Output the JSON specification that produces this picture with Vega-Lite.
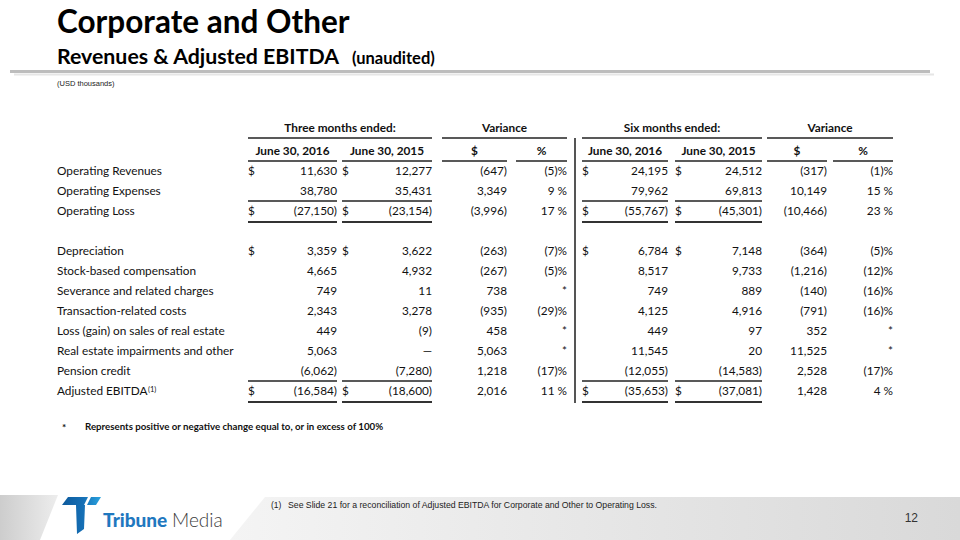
{
  "$schema": "https://vega.github.io/schema/vega-lite/v6.json",
  "width": 960,
  "height": 540,
  "autosize": "none",
  "padding": 0,
  "background": "white",
  "config": {"view": {"stroke": null}, "axis": {"disable": true}, "text": {"font": "Lato", "color": "#111111"}},
  "datasets": {
    "rows": [
      {"r": "Operating Revenues", "c": 0}, {"r": "Operating Expenses", "c": 0}, {"r": "Operating Loss", "c": 0},
      {"r": "Depreciation", "c": 0}, {"r": "Stock-based compensation", "c": 0}, {"r": "Severance and related charges", "c": 0},
      {"r": "Transaction-related costs", "c": 0}, {"r": "Loss (gain) on sales of real estate", "c": 0},
      {"r": "Real estate impairments and other", "c": 0}, {"r": "Pension credit", "c": 0}, {"r": "Adjusted EBITDA", "c": 0}
    ],
    "cells": [
      {"r": "Operating Revenues", "c": 3, "t": "11,630\u2002"}, {"r": "Operating Revenues", "c": 7, "t": "12,277\u2002"}, {"r": "Operating Revenues", "c": 11, "t": "(647)"}, {"r": "Operating Revenues", "c": 14, "t": "(5)%"},
      {"r": "Operating Revenues", "c": 18, "t": "24,195\u2002"}, {"r": "Operating Revenues", "c": 22, "t": "24,512\u2002"}, {"r": "Operating Revenues", "c": 25, "t": "(317)"}, {"r": "Operating Revenues", "c": 29, "t": "(1)%"},
      {"r": "Operating Expenses", "c": 3, "t": "38,780\u2002"}, {"r": "Operating Expenses", "c": 7, "t": "35,431\u2002"}, {"r": "Operating Expenses", "c": 11, "t": "3,349\u2002"}, {"r": "Operating Expenses", "c": 14, "t": "9 %"},
      {"r": "Operating Expenses", "c": 18, "t": "79,962\u2002"}, {"r": "Operating Expenses", "c": 22, "t": "69,813\u2002"}, {"r": "Operating Expenses", "c": 25, "t": "10,149\u2002"}, {"r": "Operating Expenses", "c": 29, "t": "15 %"},
      {"r": "Operating Loss", "c": 3, "t": "(27,150)"}, {"r": "Operating Loss", "c": 7, "t": "(23,154)"}, {"r": "Operating Loss", "c": 11, "t": "(3,996)"}, {"r": "Operating Loss", "c": 14, "t": "17 %"},
      {"r": "Operating Loss", "c": 18, "t": "(55,767)"}, {"r": "Operating Loss", "c": 22, "t": "(45,301)"}, {"r": "Operating Loss", "c": 25, "t": "(10,466)"}, {"r": "Operating Loss", "c": 29, "t": "23 %"},
      {"r": "Depreciation", "c": 3, "t": "3,359\u2002"}, {"r": "Depreciation", "c": 7, "t": "3,622\u2002"}, {"r": "Depreciation", "c": 11, "t": "(263)"}, {"r": "Depreciation", "c": 14, "t": "(7)%"},
      {"r": "Depreciation", "c": 18, "t": "6,784\u2002"}, {"r": "Depreciation", "c": 22, "t": "7,148\u2002"}, {"r": "Depreciation", "c": 25, "t": "(364)"}, {"r": "Depreciation", "c": 29, "t": "(5)%"},
      {"r": "Stock-based compensation", "c": 3, "t": "4,665\u2002"}, {"r": "Stock-based compensation", "c": 7, "t": "4,932\u2002"}, {"r": "Stock-based compensation", "c": 11, "t": "(267)"}, {"r": "Stock-based compensation", "c": 14, "t": "(5)%"},
      {"r": "Stock-based compensation", "c": 18, "t": "8,517\u2002"}, {"r": "Stock-based compensation", "c": 22, "t": "9,733\u2002"}, {"r": "Stock-based compensation", "c": 25, "t": "(1,216)"}, {"r": "Stock-based compensation", "c": 29, "t": "(12)%"},
      {"r": "Severance and related charges", "c": 3, "t": "749\u2002"}, {"r": "Severance and related charges", "c": 7, "t": "11\u2002"}, {"r": "Severance and related charges", "c": 11, "t": "738\u2002"}, {"r": "Severance and related charges", "c": 14, "t": "*\u2009"},
      {"r": "Severance and related charges", "c": 18, "t": "749\u2002"}, {"r": "Severance and related charges", "c": 22, "t": "889\u2002"}, {"r": "Severance and related charges", "c": 25, "t": "(140)"}, {"r": "Severance and related charges", "c": 29, "t": "(16)%"},
      {"r": "Transaction-related costs", "c": 3, "t": "2,343\u2002"}, {"r": "Transaction-related costs", "c": 7, "t": "3,278\u2002"}, {"r": "Transaction-related costs", "c": 11, "t": "(935)"}, {"r": "Transaction-related costs", "c": 14, "t": "(29)%"},
      {"r": "Transaction-related costs", "c": 18, "t": "4,125\u2002"}, {"r": "Transaction-related costs", "c": 22, "t": "4,916\u2002"}, {"r": "Transaction-related costs", "c": 25, "t": "(791)"}, {"r": "Transaction-related costs", "c": 29, "t": "(16)%"},
      {"r": "Loss (gain) on sales of real estate", "c": 3, "t": "449\u2002"}, {"r": "Loss (gain) on sales of real estate", "c": 7, "t": "(9)"}, {"r": "Loss (gain) on sales of real estate", "c": 11, "t": "458\u2002"}, {"r": "Loss (gain) on sales of real estate", "c": 14, "t": "*\u2009"},
      {"r": "Loss (gain) on sales of real estate", "c": 18, "t": "449\u2002"}, {"r": "Loss (gain) on sales of real estate", "c": 22, "t": "97\u2002"}, {"r": "Loss (gain) on sales of real estate", "c": 25, "t": "352\u2002"}, {"r": "Loss (gain) on sales of real estate", "c": 29, "t": "*\u2009"},
      {"r": "Real estate impairments and other", "c": 3, "t": "5,063\u2002"}, {"r": "Real estate impairments and other", "c": 7, "t": "\u2014\u2002"}, {"r": "Real estate impairments and other", "c": 11, "t": "5,063\u2002"}, {"r": "Real estate impairments and other", "c": 14, "t": "*\u2009"},
      {"r": "Real estate impairments and other", "c": 18, "t": "11,545\u2002"}, {"r": "Real estate impairments and other", "c": 22, "t": "20\u2002"}, {"r": "Real estate impairments and other", "c": 25, "t": "11,525\u2002"}, {"r": "Real estate impairments and other", "c": 29, "t": "*\u2009"},
      {"r": "Pension credit", "c": 3, "t": "(6,062)"}, {"r": "Pension credit", "c": 7, "t": "(7,280)"}, {"r": "Pension credit", "c": 11, "t": "1,218\u2002"}, {"r": "Pension credit", "c": 14, "t": "(17)%"},
      {"r": "Pension credit", "c": 18, "t": "(12,055)"}, {"r": "Pension credit", "c": 22, "t": "(14,583)"}, {"r": "Pension credit", "c": 25, "t": "2,528\u2002"}, {"r": "Pension credit", "c": 29, "t": "(17)%"},
      {"r": "Adjusted EBITDA", "c": 3, "t": "(16,584)"}, {"r": "Adjusted EBITDA", "c": 7, "t": "(18,600)"}, {"r": "Adjusted EBITDA", "c": 11, "t": "2,016\u2002"}, {"r": "Adjusted EBITDA", "c": 14, "t": "11 %"},
      {"r": "Adjusted EBITDA", "c": 18, "t": "(35,653)"}, {"r": "Adjusted EBITDA", "c": 22, "t": "(37,081)"}, {"r": "Adjusted EBITDA", "c": 25, "t": "1,428\u2002"}, {"r": "Adjusted EBITDA", "c": 29, "t": "4 %"}
    ],
    "dollars": [
      {"r": "Operating Revenues", "c": 1, "t": "$"}, {"r": "Operating Revenues", "c": 5, "t": "$"}, {"r": "Operating Revenues", "c": 16, "t": "$"}, {"r": "Operating Revenues", "c": 20, "t": "$"},
      {"r": "Operating Loss", "c": 1, "t": "$"}, {"r": "Operating Loss", "c": 5, "t": "$"}, {"r": "Operating Loss", "c": 16, "t": "$"}, {"r": "Operating Loss", "c": 20, "t": "$"},
      {"r": "Depreciation", "c": 1, "t": "$"}, {"r": "Depreciation", "c": 5, "t": "$"}, {"r": "Depreciation", "c": 16, "t": "$"}, {"r": "Depreciation", "c": 20, "t": "$"},
      {"r": "Adjusted EBITDA", "c": 1, "t": "$"}, {"r": "Adjusted EBITDA", "c": 5, "t": "$"}, {"r": "Adjusted EBITDA", "c": 16, "t": "$"}, {"r": "Adjusted EBITDA", "c": 20, "t": "$"}
    ],
    "headers": [
      {"r": "h1", "c": 4, "t": "Three months ended:"}, {"r": "h1", "c": 10, "t": "Variance"}, {"r": "h1", "c": 19, "t": "Six months ended:"}, {"r": "h1", "c": 26, "t": "Variance"},
      {"r": "h2", "c": 2, "t": "June 30, 2016"}, {"r": "h2", "c": 6, "t": "June 30, 2015"}, {"r": "h2", "c": 9, "t": "$"}, {"r": "h2", "c": 13, "t": "%"},
      {"r": "h2", "c": 17, "t": "June 30, 2016"}, {"r": "h2", "c": 21, "t": "June 30, 2015"}, {"r": "h2", "c": 24, "t": "$"}, {"r": "h2", "c": 28, "t": "%"}
    ],
    "rules": [
      {"r": "h1", "c": 1, "c2": 7}, {"r": "h1", "c": 8, "c2": 14}, {"r": "h1", "c": 16, "c2": 22}, {"r": "h1", "c": 23, "c2": 29},
      {"r": "h2", "c": 1, "c2": 3}, {"r": "h2", "c": 5, "c2": 7}, {"r": "h2", "c": 8, "c2": 11}, {"r": "h2", "c": 12, "c2": 14},
      {"r": "h2", "c": 16, "c2": 18}, {"r": "h2", "c": 20, "c2": 22}, {"r": "h2", "c": 23, "c2": 25}, {"r": "h2", "c": 27, "c2": 29},
      {"r": "Operating Expenses", "c": 1, "c2": 3}, {"r": "Operating Expenses", "c": 5, "c2": 7}, {"r": "Operating Expenses", "c": 16, "c2": 18}, {"r": "Operating Expenses", "c": 20, "c2": 22},
      {"r": "Operating Loss", "c": 1, "c2": 3}, {"r": "Operating Loss", "c": 5, "c2": 7}, {"r": "Operating Loss", "c": 16, "c2": 18}, {"r": "Operating Loss", "c": 20, "c2": 22},
      {"r": "Pension credit", "c": 1, "c2": 3}, {"r": "Pension credit", "c": 5, "c2": 7}, {"r": "Pension credit", "c": 16, "c2": 18}, {"r": "Pension credit", "c": 20, "c2": 22},
      {"r": "Adjusted EBITDA", "c": 1, "c2": 3}, {"r": "Adjusted EBITDA", "c": 5, "c2": 7}, {"r": "Adjusted EBITDA", "c": 16, "c2": 18}, {"r": "Adjusted EBITDA", "c": 20, "c2": 22}
    ]
  },
  "layer": [
    {
      "data": {"values": [{}]},
      "layer": [
        {
          "mark": {"type": "point", "shape": "M-1,-0.7759L1,-0.7759L0.3793,0.7759L-1,0.7759Z", "size": 3364, "filled": true, "opacity": 1, "strokeWidth": 0,
            "fill": {"gradient": "linear", "x1": 0, "y1": 0, "x2": 1, "y2": 0, "stops": [{"offset": 0, "color": "#cdcdcd"}, {"offset": 1, "color": "#ededed"}]}},
          "encoding": {
            "x": {"datum": 29, "type": "quantitative", "scale": {"domain": [0, 960], "range": [0, 960], "nice": false, "zero": false}},
            "y": {"datum": 517.5, "type": "quantitative", "scale": {"domain": [0, 540], "range": [0, 540], "nice": false, "zero": false}}
          }
        },
        {
          "mark": {"type": "point", "shape": "M-0.9041,-0.0589L1,-0.0589L1,0.0589L-1,0.0589Z", "size": 532900, "filled": true, "opacity": 1, "strokeWidth": 0,
            "fill": {"gradient": "linear", "x1": 0, "y1": 0, "x2": 1, "y2": 0, "stops": [{"offset": 0, "color": "#f4f4f4"}, {"offset": 1, "color": "#d9d9d9"}]}},
          "encoding": {
            "x": {"datum": 595, "type": "quantitative"},
            "y": {"datum": 518.5, "type": "quantitative"}
          }
        },
        {
          "mark": {"type": "point", "shape": "M-0.675,-0.925L0.325,-0.925L0.125,-0.525L-0.975,-0.525ZM0.475,-0.925L0.975,-0.925L0.725,-0.525L0.275,-0.525ZM-0.275,-0.525L0.175,-0.525L0.125,0.675L-0.225,0.925Z", "size": 1600, "filled": true, "opacity": 1, "strokeWidth": 0,
            "fill": {"gradient": "linear", "x1": 0, "y1": 0, "x2": 1, "y2": 0, "stops": [{"offset": 0, "color": "#0d5a9c"}, {"offset": 0.55, "color": "#1670b6"}, {"offset": 1, "color": "#2aa3df"}]}},
          "encoding": {
            "x": {"datum": 81.5, "type": "quantitative"},
            "y": {"datum": 515.5, "type": "quantitative"}
          }
        },
        {
          "mark": {"type": "rule", "strokeWidth": 3, "color": "#bdbdbd"},
          "encoding": {
            "x": {"datum": 10, "type": "quantitative"}, "x2": {"datum": 930},
            "y": {"datum": 71.5, "type": "quantitative"}
          }
        },
        {
          "mark": {"type": "rule", "strokeWidth": 2, "color": "#e6e6e6"},
          "encoding": {
            "x": {"datum": 14, "type": "quantitative"}, "x2": {"datum": 934},
            "y": {"datum": 74.5, "type": "quantitative"}
          }
        },
        {
          "mark": {"type": "text", "text": "Corporate and Other", "align": "left", "baseline": "alphabetic", "fontSize": 31.5, "fontWeight": "bold", "color": "#000000"},
          "encoding": {"x": {"datum": 57, "type": "quantitative"}, "y": {"datum": 33, "type": "quantitative"}}
        },
        {
          "mark": {"type": "text", "text": "Revenues & Adjusted EBITDA", "align": "left", "baseline": "alphabetic", "fontSize": 21.3, "fontWeight": "bold", "color": "#000000"},
          "encoding": {"x": {"datum": 57, "type": "quantitative"}, "y": {"datum": 64, "type": "quantitative"}}
        },
        {
          "mark": {"type": "text", "text": "(unaudited)", "align": "left", "baseline": "alphabetic", "fontSize": 16.5, "fontWeight": "bold", "color": "#000000"},
          "encoding": {"x": {"datum": 352, "type": "quantitative"}, "y": {"datum": 64, "type": "quantitative"}}
        },
        {
          "mark": {"type": "text", "text": "(USD thousands)", "align": "left", "baseline": "middle", "fontSize": 7.5, "font": "Liberation Sans", "color": "#222222"},
          "encoding": {"x": {"datum": 57, "type": "quantitative"}, "y": {"datum": 84, "type": "quantitative"}}
        },
        {
          "mark": {"type": "text", "text": "*", "align": "left", "baseline": "middle", "fontSize": 10, "fontWeight": "bold"},
          "encoding": {"x": {"datum": 62, "type": "quantitative"}, "y": {"datum": 428, "type": "quantitative"}}
        },
        {
          "mark": {"type": "text", "text": "Represents positive or negative change equal to, or in excess of 100%", "align": "left", "baseline": "middle", "fontSize": 9.7, "fontWeight": "bold"},
          "encoding": {"x": {"datum": 85, "type": "quantitative"}, "y": {"datum": 427, "type": "quantitative"}}
        },
        {
          "mark": {"type": "text", "text": "Tribune", "align": "left", "baseline": "alphabetic", "fontSize": 19, "fontWeight": 900, "color": "#1f78bf"},
          "encoding": {"x": {"datum": 103, "type": "quantitative"}, "y": {"datum": 527, "type": "quantitative"}}
        },
        {
          "mark": {"type": "text", "text": "Media", "align": "left", "baseline": "alphabetic", "fontSize": 19, "fontWeight": 300, "color": "#3c3c3c"},
          "encoding": {"x": {"datum": 172, "type": "quantitative"}, "y": {"datum": 527, "type": "quantitative"}}
        },
        {
          "mark": {"type": "text", "text": "(1)", "align": "left", "baseline": "middle", "fontSize": 8.5, "font": "Liberation Sans", "color": "#222222"},
          "encoding": {"x": {"datum": 271, "type": "quantitative"}, "y": {"datum": 505, "type": "quantitative"}}
        },
        {
          "mark": {"type": "text", "text": "See Slide 21 for a reconciliation of Adjusted EBITDA for Corporate and Other to Operating Loss.", "align": "left", "baseline": "middle", "fontSize": 8.7, "font": "Liberation Sans", "color": "#222222"},
          "encoding": {"x": {"datum": 288, "type": "quantitative"}, "y": {"datum": 505, "type": "quantitative"}}
        },
        {
          "mark": {"type": "text", "text": "12", "align": "right", "baseline": "middle", "fontSize": 12, "font": "Liberation Sans", "color": "#333333"},
          "encoding": {"x": {"datum": 918, "type": "quantitative"}, "y": {"datum": 518, "type": "quantitative"}}
        }
      ]
    },
    {
      "encoding": {
        "x": {"field": "c", "type": "quantitative", "scale": {"domain": [0,1,2,3,4,5,6,7,8,9,10,11,12,13,14,15,16,17,18,19,20,21,22,23,24,25,26,27,28,29], "range": [57,248,292.5,337,340,342,387,432,442,474.5,504.5,507,516,541.5,567,575,582,625,668,672,675,718.5,762,767,797,827,830,833,863,893], "nice": false, "zero": false}},
        "y": {"field": "r", "type": "nominal", "scale": {"type": "point", "domain": ["h1","h2","Operating Revenues","Operating Expenses","Operating Loss","gap","Depreciation","Stock-based compensation","Severance and related charges","Transaction-related costs","Loss (gain) on sales of real estate","Real estate impairments and other","Pension credit","Adjusted EBITDA"], "range": [131, 391], "padding": 0}}
      },
      "layer": [
        {
          "data": {"name": "rows"},
          "mark": {"type": "text", "align": "left", "baseline": "middle", "fontSize": 11.8},
          "encoding": {"text": {"field": "r"}}
        },
        {
          "data": {"values": [{"r": "Adjusted EBITDA", "c": 0, "t": "(1)"}]},
          "mark": {"type": "text", "align": "left", "baseline": "middle", "fontSize": 7.5, "dx": 91, "dy": -1},
          "encoding": {"text": {"field": "t"}}
        },
        {
          "data": {"name": "cells"},
          "mark": {"type": "text", "align": "right", "baseline": "middle", "fontSize": 11.8},
          "encoding": {"text": {"field": "t"}}
        },
        {
          "data": {"name": "dollars"},
          "mark": {"type": "text", "align": "left", "baseline": "middle", "fontSize": 11.8},
          "encoding": {"text": {"field": "t"}}
        },
        {
          "data": {"name": "headers"},
          "transform": [{"filter": "datum.r == 'h1'"}],
          "mark": {"type": "text", "align": "center", "baseline": "middle", "fontSize": 11.8, "fontWeight": "bold", "yOffset": -3},
          "encoding": {"text": {"field": "t"}}
        },
        {
          "data": {"name": "headers"},
          "transform": [{"filter": "datum.r == 'h2'"}],
          "mark": {"type": "text", "align": "center", "baseline": "middle", "fontSize": 11.8, "fontWeight": "bold"},
          "encoding": {"text": {"field": "t"}}
        },
        {
          "data": {"name": "rules"},
          "transform": [{"filter": "datum.r == 'h1'"}],
          "mark": {"type": "rule", "strokeWidth": 1.4, "color": "#222222", "yOffset": 7},
          "encoding": {"x2": {"field": "c2"}}
        },
        {
          "data": {"name": "rules"},
          "transform": [{"filter": "datum.r == 'h2' || datum.r == 'Operating Expenses' || datum.r == 'Pension credit'"}],
          "mark": {"type": "rule", "strokeWidth": 1.4, "color": "#222222", "yOffset": 10},
          "encoding": {"x2": {"field": "c2"}}
        },
        {
          "data": {"name": "rules"},
          "transform": [{"filter": "datum.r == 'Operating Loss' || datum.r == 'Adjusted EBITDA'"}],
          "mark": {"type": "rule", "strokeWidth": 2.2, "color": "#333333", "yOffset": 11},
          "encoding": {"x2": {"field": "c2"}}
        },
        {
          "data": {"values": [{"c": 15, "r": "h1", "r2": "Adjusted EBITDA"}]},
          "mark": {"type": "rule", "strokeWidth": 2, "color": "#555555", "yOffset": 7, "y2Offset": 12},
          "encoding": {"y2": {"field": "r2"}}
        }
      ]
    }
  ],
  "resolve": {"scale": {"x": "independent", "y": "independent"}}
}
